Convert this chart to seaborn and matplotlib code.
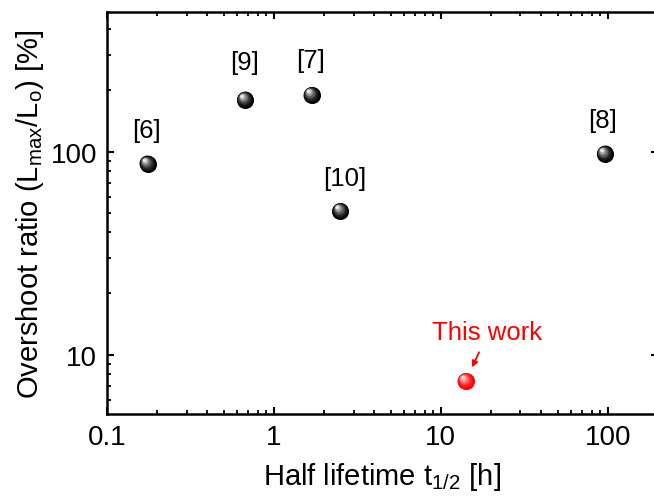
import numpy as np
import pandas as pd
import matplotlib
matplotlib.use("Agg")
import matplotlib.pyplot as plt
import matplotlib.colors as mcolors
from matplotlib.transforms import offset_copy
from matplotlib.ticker import FixedLocator, FixedFormatter, LogLocator, NullFormatter
import seaborn as sns

# Literature values (reference tag, half lifetime in h, overshoot ratio in %)
refs = ["[6]", "[9]", "[7]", "[10]", "[8]"]
half_life = [0.175, 0.67, 1.68, 2.5, 96.0]
overshoot = [87.0, 180.0, 190.0, 51.0, 97.5]

# Present result
this_label = "This work"
this_half_life = [14.1]
this_overshoot = [7.4]

x_ticks = [0.1, 1, 10, 100]
x_tick_labels = ["0.1", "1", "10", "100"]
y_ticks = [10, 100]
y_tick_labels = ["10", "100"]

sns.set_theme(style="ticks")
plt.rcParams["font.family"] = ["Liberation Sans", "DejaVu Sans"]
plt.rcParams["mathtext.fontset"] = "custom"
plt.rcParams["mathtext.rm"] = "Liberation Sans"
plt.rcParams["mathtext.it"] = "Liberation Sans:italic"

TICK_FS = 20
LABEL_FS = 21
NOTE_FS = 18.5

fig = plt.figure(figsize=(6.54, 5.02), dpi=100)
W, H = 654, 502
left_px, right_px, top_px, bottom_px = 107, 658, 13, 415
ax = fig.add_axes([left_px / W, 1 - bottom_px / H,
                   (right_px - left_px) / W, (bottom_px - top_px) / H])

ref_df = pd.DataFrame({"ref": refs, "t": half_life, "ratio": overshoot})
this_df = pd.DataFrame({"t": this_half_life, "ratio": this_overshoot})

D = 12.3  # marker diameter in points


def sphere(data, base, highlight):
    """Draw shaded spheres: a base disc plus a stack of lighter discs."""
    sns.scatterplot(data=data, x="t", y="ratio", ax=ax, color=base,
                    s=D ** 2, linewidth=0, legend=False, zorder=3)
    base_rgb = np.array(mcolors.to_rgb(base))
    hi_rgb = np.array(mcolors.to_rgb(highlight))
    n = 14
    for k in range(1, n):
        t = k / (n - 1)
        d = D * (1 - 0.86 * t)
        col = base_rgb + (hi_rgb - base_rgb) * t ** 1.6
        tr = offset_copy(ax.transData, fig=fig, x=-0.2 * D * t,
                         y=0.24 * D * t, units="points")
        ax.scatter(data["t"], data["ratio"], s=d ** 2, color=col,
                   linewidths=0, transform=tr, zorder=3 + t)


sphere(ref_df, "#000000", "#f4f4f4")
sphere(this_df, "#ff0000", "#ffe6e6")

# Reference tags above each point (offsets in points)
tag_offset = {"[6]": (-0.7, 24.5), "[9]": (0, 27), "[7]": (-0.7, 25),
              "[10]": (3.5, 24), "[8]": (-1.4, 24.5)}
for r, t, v in zip(refs, half_life, overshoot):
    ax.annotate(r, xy=(t, v), xytext=tag_offset[r],
                textcoords="offset points", ha="center", va="center",
                fontsize=NOTE_FS, color="#000000")

# "This work" text with arrow to the red point
ax.annotate(this_label, xy=(this_half_life[0], this_overshoot[0]),
            xytext=(15.3, 35), textcoords="offset points",
            ha="center", va="center", fontsize=NOTE_FS, color="#ff0000")
ax.annotate("", xy=(this_half_life[0], this_overshoot[0]),
            xytext=(9.6, 20.7), textcoords="offset points",
            arrowprops=dict(arrowstyle="-|>", color="#ff0000", lw=1.3,
                            mutation_scale=9, shrinkA=0, shrinkB=10.8))

ax.set_xscale("log")
ax.set_yscale("log")
ax.set_xlim(0.1, 200)
ax.set_ylim(10 ** (1 - (bottom_px - 355.5) / 203.0),
            10 ** (2 + (152.5 - top_px) / 203.0))

ax.xaxis.set_major_locator(FixedLocator(x_ticks))
ax.xaxis.set_major_formatter(FixedFormatter(x_tick_labels))
ax.yaxis.set_major_locator(FixedLocator(y_ticks))
ax.yaxis.set_major_formatter(FixedFormatter(y_tick_labels))
for axis in (ax.xaxis, ax.yaxis):
    axis.set_minor_locator(LogLocator(base=10, subs=np.arange(2, 10), numticks=20))
    axis.set_minor_formatter(NullFormatter())

ax.tick_params(which="both", direction="in", top=True, right=True,
               colors="#000000", labelsize=TICK_FS)
ax.tick_params(which="major", length=5, width=1.5)
ax.tick_params(which="minor", length=3, width=1.3)
ax.tick_params(axis="x", which="major", pad=7)
ax.tick_params(axis="y", which="major", pad=7)

for sp in ax.spines.values():
    sp.set_linewidth(1.8)
    sp.set_color("#000000")

ax.set_xlabel(r"Half lifetime t$_{\mathregular{1/2}}$ [h]", fontsize=LABEL_FS, color="#000000")
ax.set_ylabel(r"Overshoot ratio (L$_{\mathregular{max}}$/L$_{\mathregular{o}}$) [%]",
              fontsize=LABEL_FS, color="#000000")
ax.xaxis.set_label_coords(0.5, -0.115)
ax.yaxis.set_label_coords(-0.11, 0.5)

fig.savefig("out.png", dpi=100, facecolor="white")
